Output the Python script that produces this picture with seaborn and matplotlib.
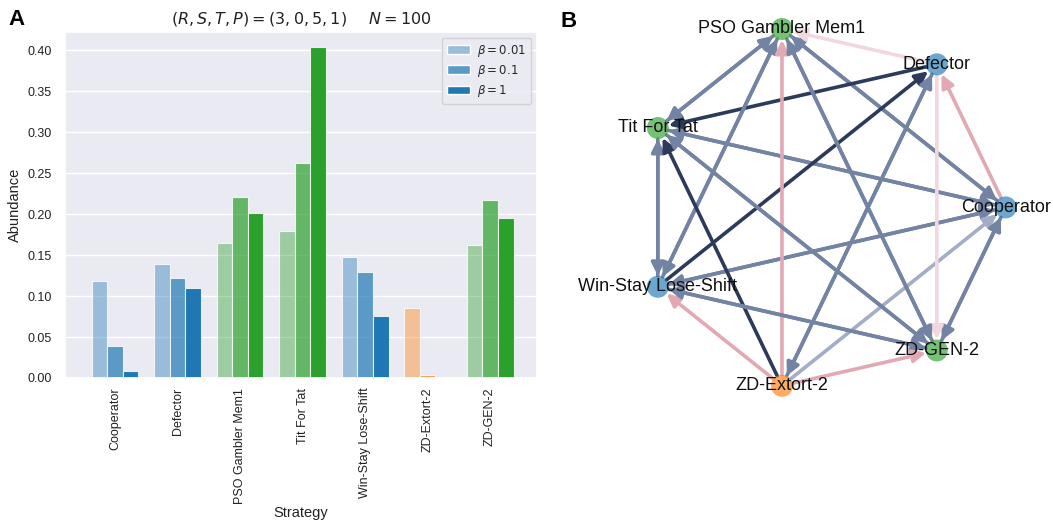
import numpy as np
import pandas as pd
import seaborn as sns
import matplotlib.pyplot as plt
from matplotlib.colors import to_rgba
from matplotlib.patches import Patch

# ---------------- data ----------------
strategies = ["Cooperator", "Defector", "PSO Gambler Mem1", "Tit For Tat",
              "Win-Stay Lose-Shift", "ZD-Extort-2", "ZD-GEN-2"]
beta_labels = [r"$\beta = 0.01$", r"$\beta = 0.1$", r"$\beta = 1$"]
abundance_beta_001 = [0.118, 0.139, 0.165, 0.179, 0.148, 0.086, 0.162]
abundance_beta_01 = [0.039, 0.122, 0.221, 0.262, 0.130, 0.004, 0.217]
abundance_beta_1 = [0.009, 0.110, 0.201, 0.404, 0.076, 0.000, 0.195]
strategy_colors = ["tab:blue", "tab:blue", "tab:green", "tab:green",
                   "tab:blue", "tab:orange", "tab:green"]
beta_alphas = [0.4, 0.7, 1.0]

# network (indices into strategies)
edge_source = [0, 0, 2, 0, 3, 0, 4, 5, 0, 6, 1, 1, 4, 1, 5, 1,
               2, 3, 2, 4, 5, 2, 6, 3, 4, 5, 3, 6, 5, 4, 6, 5]
edge_target = [1, 2, 0, 3, 0, 4, 0, 0, 6, 0, 2, 3, 1, 5, 1, 6,
               3, 2, 4, 2, 2, 6, 2, 4, 3, 3, 6, 3, 4, 6, 4, 6]
edge_class = ["low", "neutral", "neutral", "neutral", "neutral", "neutral", "neutral", "midlow",
              "neutral", "neutral", "lowest", "high", "high", "neutral", "neutral", "lowest",
              "neutral", "neutral", "neutral", "neutral", "low", "neutral", "neutral", "neutral",
              "neutral", "high", "neutral", "neutral", "low", "neutral", "neutral", "low"]
class_colors = {"high": "#2b3b59", "neutral": "#7383a4", "midlow": "#a3adc7",
                "low": "#e2a9b4", "lowest": "#f3d7de"}

# ---------------- style ----------------
sns.set_theme(style="darkgrid")
plt.rcParams['font.family'] = ['Liberation Sans', 'DejaVu Sans']

W, H = 1053, 526
fig = plt.figure(figsize=(W / 100, H / 100), dpi=100)

# ---------------- panel A ----------------
ax = fig.add_axes([65 / W, 1 - 378 / H, (537 - 65) / W, (378 - 32) / H])
df = pd.DataFrame({
    "Strategy": strategies * 3,
    "Abundance": abundance_beta_001 + abundance_beta_01 + abundance_beta_1,
    "beta": [b for b in beta_labels for _ in strategies],
})
sns.barplot(data=df, x="Strategy", y="Abundance", hue="beta", ax=ax,
            width=0.75, errorbar=None, saturation=1, legend=False,
            palette=["tab:blue"] * 3, edgecolor="white", linewidth=0.8)
for j, cont in enumerate(ax.containers):
    for i, bar in enumerate(cont.patches):
        bar.set_facecolor(to_rgba(strategy_colors[i], beta_alphas[j]))
        bar.set_edgecolor(to_rgba("white", 0.8))

ax.set_xlim(-0.8, 6.75)
ax.set_ylim(0, 0.4225)
ax.set_yticks(np.arange(0, 0.41, 0.05))
ax.set_yticklabels([f"{v:.2f}" for v in np.arange(0, 0.41, 0.05)])
ax.tick_params(axis="x", labelrotation=90, labelsize=9, pad=1, colors="#222222")
ax.tick_params(axis="y", labelsize=9, colors="#222222")
ax.set_xlabel("Strategy", fontsize=10.5, labelpad=2, color="#222222")
ax.set_ylabel("Abundance", fontsize=10.5, color="#222222")
ax.set_title(r"$(R,S,T,P) = (3,0,5,1)$     $N = 100$", fontsize=11.5, color="#222222")
handles = [Patch(facecolor=to_rgba("tab:blue", a), edgecolor="white") for a in beta_alphas]
ax.legend(handles, beta_labels, loc="upper right", fontsize=8.5,
          labelspacing=0.35, borderpad=0.4, handletextpad=0.6)

fig.text(8 / W, 1 - 25 / H, "A", fontsize=16, weight="bold", va="baseline", color="black")
fig.text(560 / W, 1 - 27 / H, "B", fontsize=16, weight="bold", va="baseline", color="black")

# ---------------- panel B ----------------
R = 183.0
ax2 = fig.add_axes([(822.7 - 230) / W, (526 - 207.4 - 205) / H, 460 / W, 410 / H])
ax2.set_xlim(-230 / R, 230 / R)
ax2.set_ylim(-205 / R, 205 / R)
ax2.axis("off")

n = len(strategies)
theta = 2 * np.pi * np.arange(n) / n
pos = np.column_stack([np.cos(theta), np.sin(theta)])

for s, t, c in zip(edge_source, edge_target, edge_class):
    ax2.annotate("", xy=pos[t], xytext=pos[s],
                 arrowprops=dict(arrowstyle="-|>", color=class_colors[c], lw=2.6,
                                 mutation_scale=19, shrinkA=8, shrinkB=8),
                 zorder=1)

node_rgba = [to_rgba(c, 0.65) for c in strategy_colors]
ax2.scatter(pos[:, 0], pos[:, 1], s=250, c=node_rgba, linewidths=0, zorder=2)
for name, (x, y) in zip(strategies, pos):
    ax2.text(x, y, name, ha="center", va="center", fontsize=13, color="#111111", zorder=3)

fig.savefig("out.png", dpi=100)
